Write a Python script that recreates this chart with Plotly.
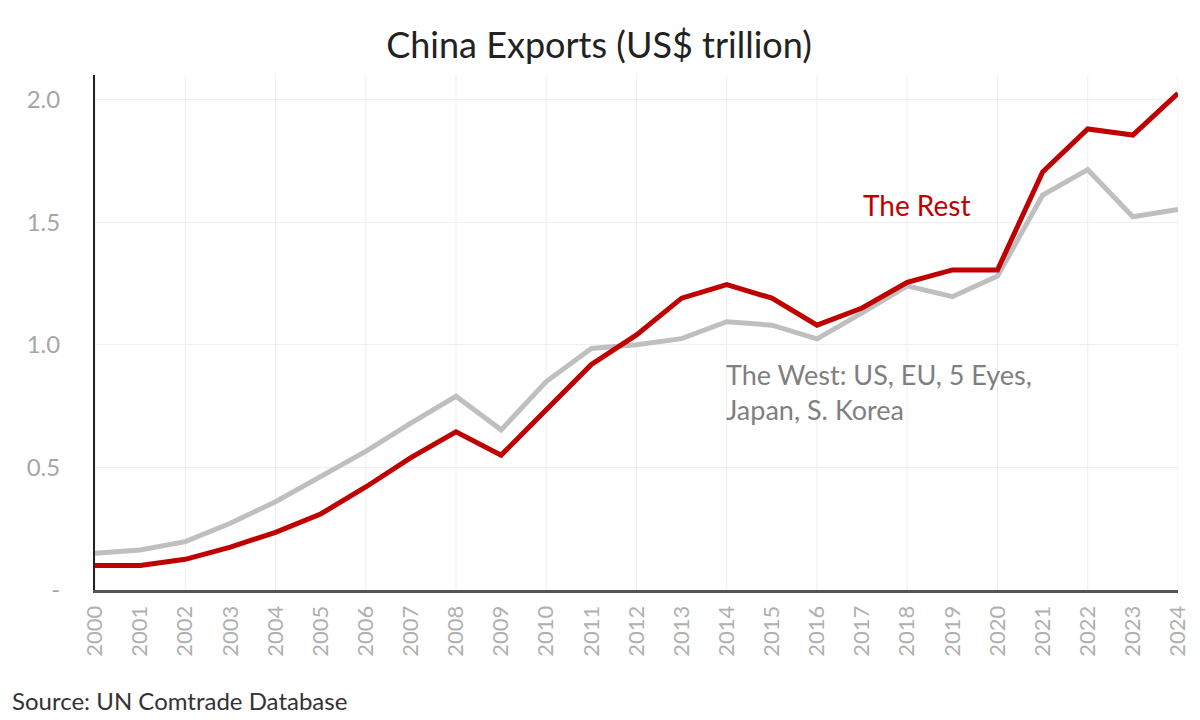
import plotly.graph_objects as go

# China exports by destination group, US$ trillion
years = list(range(2000, 2025))
the_rest = [0.10, 0.10, 0.125, 0.175, 0.235, 0.31, 0.42, 0.54, 0.645, 0.55,
            0.735, 0.92, 1.04, 1.19, 1.245, 1.19, 1.08, 1.15, 1.255, 1.305,
            1.305, 1.705, 1.88, 1.855, 2.025]
the_west = [0.15, 0.163, 0.197, 0.272, 0.36, 0.465, 0.565, 0.68, 0.79, 0.653,
            0.85, 0.985, 1.0, 1.025, 1.094, 1.08, 1.024, 1.13, 1.24, 1.196,
            1.28, 1.61, 1.714, 1.522, 1.552]

y_ticks = [0, 0.5, 1.0, 1.5, 2.0]
y_labels = ["-", "0.5", "1.0", "1.5", "2.0"]

RED = "#C00000"
GREY = "#BFBFBF"
GRID = "#efefef"
FONT = "Lato"

fig = go.Figure()

# The West first so the red line sits on top where they cross
fig.add_trace(go.Scatter(
    x=years, y=the_west, mode="lines", name="The West",
    line=dict(color=GREY, width=5),
))
fig.add_trace(go.Scatter(
    x=years, y=the_rest, mode="lines", name="The Rest",
    line=dict(color=RED, width=5),
))

# direct labels instead of a legend
fig.add_annotation(
    x=2018.2, y=1.57, text="The Rest", showarrow=False,
    font=dict(family=FONT, size=28, color=RED),
)
fig.add_annotation(
    x=2013.95, y=0.806, xanchor="left", yanchor="middle", align="left",
    text="The West: US, EU, 5 Eyes,<br>Japan, S. Korea", showarrow=False,
    font=dict(family=FONT, size=27, color="#7f7f7f"),
)
fig.add_annotation(
    xref="paper", yref="paper", x=-0.0785, y=-0.2136,
    xanchor="left", yanchor="middle",
    text="Source: UN Comtrade Database", showarrow=False,
    font=dict(family=FONT, size=24, color="#333333"),
)

# vertical gridlines only on even years
fig.update_layout(
    shapes=[
        dict(type="line", xref="x", yref="paper", x0=yr, x1=yr, y0=0, y1=1,
             line=dict(color=GRID, width=1), layer="below")
        for yr in years[::2]
    ]
)

fig.update_xaxes(
    range=[2000, 2024],
    tickvals=years,
    tickangle=-90,
    tickfont=dict(family=FONT, size=22, color="#b0b0b0"),
    showgrid=False,
    showline=True, linecolor="#555555", linewidth=3,
    zeroline=False,
    ticks="", ticklabelstandoff=4,
)

fig.update_yaxes(
    range=[0, 2.1],
    tickvals=y_ticks,
    ticktext=y_labels,
    tickfont=dict(family=FONT, size=24, color="#a6a6a6"),
    showgrid=True, gridcolor=GRID, gridwidth=1,
    showline=True, linecolor="#222222", linewidth=2,
    zeroline=False,
    ticks="", ticklabelstandoff=28,
)

fig.update_layout(
    width=1200, height=720,
    title=dict(
        text="China Exports (US$ trillion)",
        x=0.4925, xanchor="center", y=0.9486, yanchor="middle",
        font=dict(family=FONT, size=36, color="#222222"),
    ),
    showlegend=False,
    plot_bgcolor="white",
    paper_bgcolor="white",
    # page body adds ~8px offset, so margins are trimmed to compensate
    margin=dict(l=87, r=30, t=67, b=138),
)

fig.write_html("out.html")
